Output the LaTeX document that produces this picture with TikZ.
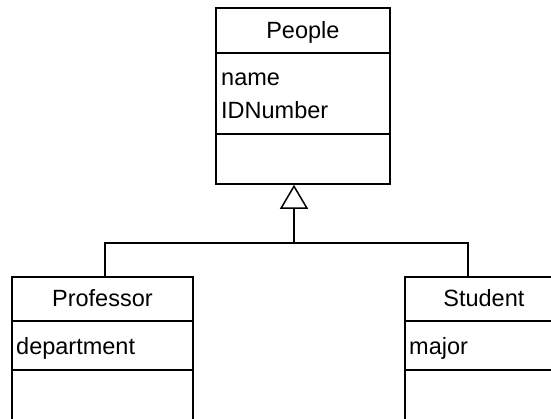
\documentclass[tikz,border=0pt]{standalone}
\usepackage{fontspec}
\setmainfont{Liberation Sans}
\usetikzlibrary{arrows.meta}
\definecolor{umlLine}{HTML}{000000}
\tikzset{
  classbox/.style={rectangle, draw=umlLine, fill=white, line width=1.8pt, anchor=north west, inner sep=0pt},
  classline/.style={draw=umlLine, line width=1.5pt},
  classname/.style={font=\fontsize{23.5}{28}\selectfont, anchor=base, inner sep=0pt},
  classattr/.style={font=\fontsize{23.5}{28}\selectfont, anchor=base west, inner sep=0pt},
  inheritline/.style={draw=umlLine, line width=1.6pt},
  inheritarrow/.style={-{Triangle[open, length=24pt, width=28pt, line width=1.5pt]}, line width=1.6pt, draw=umlLine},
}

\begin{document}
\begin{tikzpicture}[x=1pt,y=-1pt]
  \useasboundingbox (0,0) rectangle (551,419);
  \clip (0,0) rectangle (551,419);

  % Superclass
  \node[classbox, minimum width=174pt, minimum height=176pt] (people) at (215,7) {};
  \node[classname] (peopleName) at ([yshift=-32pt]people.north) {People};
  \draw[classline] ([yshift=-46pt]people.north west) -- ([yshift=-46pt]people.north east);
  \node[classattr] (peopleA1) at ([xshift=6pt,yshift=-79pt]people.north west) {name};
  \node[classattr] (peopleA2) at ([xshift=6pt,yshift=-112pt]people.north west) {IDNumber};
  \draw[classline] ([yshift=-127pt]people.north west) -- ([yshift=-127pt]people.north east);

  % Subclasses
  \node[classbox, minimum width=181pt, minimum height=160pt] (prof) at (11,276) {};
  \node[classname] (profName) at ([yshift=-31pt]prof.north) {Professor};
  \draw[classline] ([yshift=-45pt]prof.north west) -- ([yshift=-45pt]prof.north east);
  \node[classattr] (profA1) at ([xshift=5pt,yshift=-78pt]prof.north west) {department};
  \draw[classline] ([yshift=-94pt]prof.north west) -- ([yshift=-94pt]prof.north east);

  \node[classbox, minimum width=158pt, minimum height=160pt] (stud) at (404,276) {};
  \node[classname] (studName) at ([yshift=-31pt]stud.north) {Student};
  \draw[classline] ([yshift=-45pt]stud.north west) -- ([yshift=-45pt]stud.north east);
  \node[classattr] (studA1) at ([xshift=5pt,yshift=-78pt]stud.north west) {major};
  \draw[classline] ([yshift=-94pt]stud.north west) -- ([yshift=-94pt]stud.north east);

  % Generalisation
  \coordinate (join) at (294,243);
  \coordinate (profJoin) at (105,243);
  \coordinate (studJoin) at (468,243);
  \draw[inheritline] (prof.north -| profJoin) -- (profJoin) -- (studJoin) -- (stud.north -| studJoin);
  \draw[inheritarrow] (join) -- (join |- people.south);
\end{tikzpicture}
\end{document}
